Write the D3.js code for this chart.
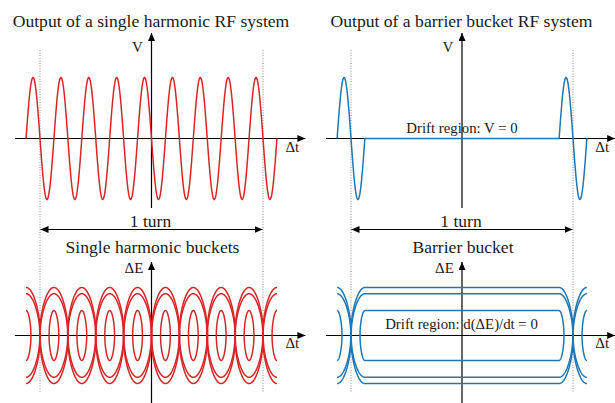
<!DOCTYPE html>
<html>
<head>
<meta charset="utf-8">
<script src="https://cdn.jsdelivr.net/npm/d3@7"></script>
<style>
  html, body { margin: 0; padding: 0; background: #fff; }
  svg { display: block; }
  text { font-family: "Liberation Serif", "Times New Roman", serif; fill: #1a1a1a; }
</style>
</head>
<body>
<svg id="chart" width="615" height="403"></svg>
<script>
// ---------------- data ----------------
const topTitles = ["Output of a single harmonic RF system", "Output of a barrier bucket RF system"];
const bottomTitles = ["Single harmonic buckets", "Barrier bucket"];
const turnLabel = "1 turn";
const vLabel = "V";
const dELabel = "ΔE";
const dtLabel = "Δt";
const driftLabels = ["Drift region: V = 0", "Drift region: d(ΔE)/dt = 0"];

// time in RF periods; one turn = 8 RF periods (harmonic 8)
const turnEdges = [-4, 4];
const waveExtent = [-4.5, 4.5];
const barrierPulses = [[-4.5, -3.5], [3.5, 4.5]];
const rfAmplitude = 1.0;

// phase-space contours (outer, middle, inner): height and reach (fraction of half RF period)
const contourLevels = [1.0, 0.87, 0.52];
const contourReach = [1.02, 0.99, 0.35];
const singleBucketCenters = [-4.5, -3.5, -2.5, -1.5, -0.5, 0.5, 1.5, 2.5, 3.5, 4.5];
const barrierBucketCenters = [-8, 0, 8];
const barrierFlatHalf = 3.5;

// ---------------- layout ----------------
const svg = d3.select("#chart");
const red = "#d62728", blue = "#1f77b4";
const panels = [
  { x: d3.scaleLinear().domain([-4, 4]).range([40, 263]), color: red, kind: "single" },
  { x: d3.scaleLinear().domain([-4, 4]).range([351, 573]), color: blue, kind: "barrier" }
];
const vScale = d3.scaleLinear().domain([-1, 1]).range([199.5, 77.5]);
const eScale = d3.scaleLinear().domain([-1, 1]).range([383.5, 287.5]);
const axisX = [-4.9, 5.52];
const vAxisY = [-1.14, 1.73];
const eAxisY = [-1.5, 1.53];

const defs = svg.append("defs");
defs.append("marker").attr("id", "arr")
  .attr("markerUnits", "userSpaceOnUse")
  .attr("markerWidth", 9).attr("markerHeight", 8)
  .attr("refX", 8).attr("refY", 3.5)
  .attr("orient", "auto-start-reverse")
  .append("path").attr("d", "M0,0 L8,3.5 L0,7 Z").attr("fill", "#000");

panels.forEach((p, i) => {
  const x = p.x;
  const g = svg.append("g");

  defs.append("clipPath").attr("id", "clip" + i)
    .append("rect")
    .attr("x", x(waveExtent[0])).attr("y", 0)
    .attr("width", x(waveExtent[1]) - x(waveExtent[0])).attr("height", 403);

  turnEdges.forEach(t => {
    g.append("line").attr("x1", x(t)).attr("x2", x(t)).attr("y1", 50).attr("y2", 393)
      .attr("stroke", "#8a8a8a").attr("stroke-width", 1).attr("stroke-dasharray", "1,1.6");
  });

  g.append("line").attr("x1", x(axisX[0])).attr("x2", x(axisX[1]))
    .attr("y1", vScale(0)).attr("y2", vScale(0))
    .attr("stroke", "#000").attr("stroke-width", 1.2).attr("marker-end", "url(#arr)");
  g.append("line").attr("x1", x(0)).attr("x2", x(0))
    .attr("y1", vScale(vAxisY[0])).attr("y2", vScale(vAxisY[1]))
    .attr("stroke", "#000").attr("stroke-width", 1.2).attr("marker-end", "url(#arr)");
  g.append("line").attr("x1", x(axisX[0])).attr("x2", x(axisX[1]))
    .attr("y1", eScale(0)).attr("y2", eScale(0))
    .attr("stroke", "#000").attr("stroke-width", 1.2).attr("marker-end", "url(#arr)");
  g.append("line").attr("x1", x(0)).attr("x2", x(0))
    .attr("y1", eScale(eAxisY[0])).attr("y2", eScale(eAxisY[1]))
    .attr("stroke", "#000").attr("stroke-width", 1.2).attr("marker-end", "url(#arr)");

  g.append("line").attr("x1", x(turnEdges[0]) + 0.5).attr("x2", x(turnEdges[1]) - 0.5)
    .attr("y1", 229.5).attr("y2", 229.5)
    .attr("stroke", "#000").attr("stroke-width", 1.2)
    .attr("marker-start", "url(#arr)").attr("marker-end", "url(#arr)");

  const n = 1200;
  const pts = d3.range(n + 1).map(k => {
    const t = waveExtent[0] + (waveExtent[1] - waveExtent[0]) * k / n;
    let v;
    if (p.kind === "single") v = -rfAmplitude * Math.sin(2 * Math.PI * t);
    else v = barrierPulses.some(b => t >= b[0] - 1e-9 && t <= b[1] + 1e-9) ? -rfAmplitude * Math.sin(2 * Math.PI * t) : 0;
    return [t, v];
  });
  const line = d3.line().x(d => x(d[0])).y(d => vScale(d[1]));
  g.append("path").attr("d", line(pts)).attr("fill", "none")
    .attr("stroke", p.color).attr("stroke-width", 1.5).attr("stroke-linejoin", "round");

  const centers = p.kind === "single" ? singleBucketCenters : barrierBucketCenters;
  const flat = p.kind === "single" ? 0 : barrierFlatHalf;
  const cg = g.append("g").attr("clip-path", "url(#clip" + i + ")");
  const cline = d3.line().x(d => x(d[0])).y(d => eScale(d[1]));
  centers.forEach(c => {
    contourLevels.forEach((h, j) => {
      const r = contourReach[j];
      const halfW = flat + 0.5 * r;
      const m = 400;
      const upper = d3.range(m + 1).map(k => {
        const s = -1 + 2 * k / m;
        const tt = c + halfW * Math.sin(s * Math.PI / 2);
        const d = Math.max(0, Math.abs(tt - c) - flat);
        const u = Math.min(1, d / (0.5 * r));
        const val = h * Math.sqrt(Math.max(0, Math.cos(Math.PI / 2 * u)));
        return [tt, val];
      });
      const lower = upper.slice().reverse().map(d => [d[0], -d[1]]);
      cg.append("path").attr("d", cline(upper.concat(lower)) + "Z")
        .attr("fill", "none").attr("stroke", p.color).attr("stroke-width", 1.5);
    });
  });

  const cx = x(0);
  g.append("text").attr("x", cx - 0.5).attr("y", 26.5).attr("text-anchor", "middle")
    .attr("font-size", 17.6).text(topTitles[i]);
  g.append("text").attr("x", cx - 1).attr("y", 226.7).attr("text-anchor", "middle")
    .attr("font-size", 17.5).text(turnLabel);
  g.append("text").attr("x", cx + 1).attr("y", 253.3).attr("text-anchor", "middle")
    .attr("font-size", 17.6).text(bottomTitles[i]);
  g.append("text").attr("x", cx - 14).attr("y", 51.6).attr("text-anchor", "middle")
    .attr("font-size", 15).text(vLabel);
  g.append("text").attr("x", cx - 17.5).attr("y", 273.4).attr("text-anchor", "middle")
    .attr("font-size", 15).text(dELabel);
  g.append("text").attr("x", x(axisX[1]) - 13).attr("y", 151.7).attr("text-anchor", "middle")
    .attr("font-size", 15).text(dtLabel);
  g.append("text").attr("x", x(axisX[1]) - 13).attr("y", 348.3).attr("text-anchor", "middle")
    .attr("font-size", 15).text(dtLabel);
  if (p.kind === "barrier") {
    g.append("text").attr("x", cx).attr("y", 133.3).attr("text-anchor", "middle")
      .attr("font-size", 14.8).text(driftLabels[0]);
    g.append("text").attr("x", cx - 0.5).attr("y", 329.3).attr("text-anchor", "middle")
      .attr("font-size", 14.8).text(driftLabels[1]);
  }
});
</script>
</body>
</html>
